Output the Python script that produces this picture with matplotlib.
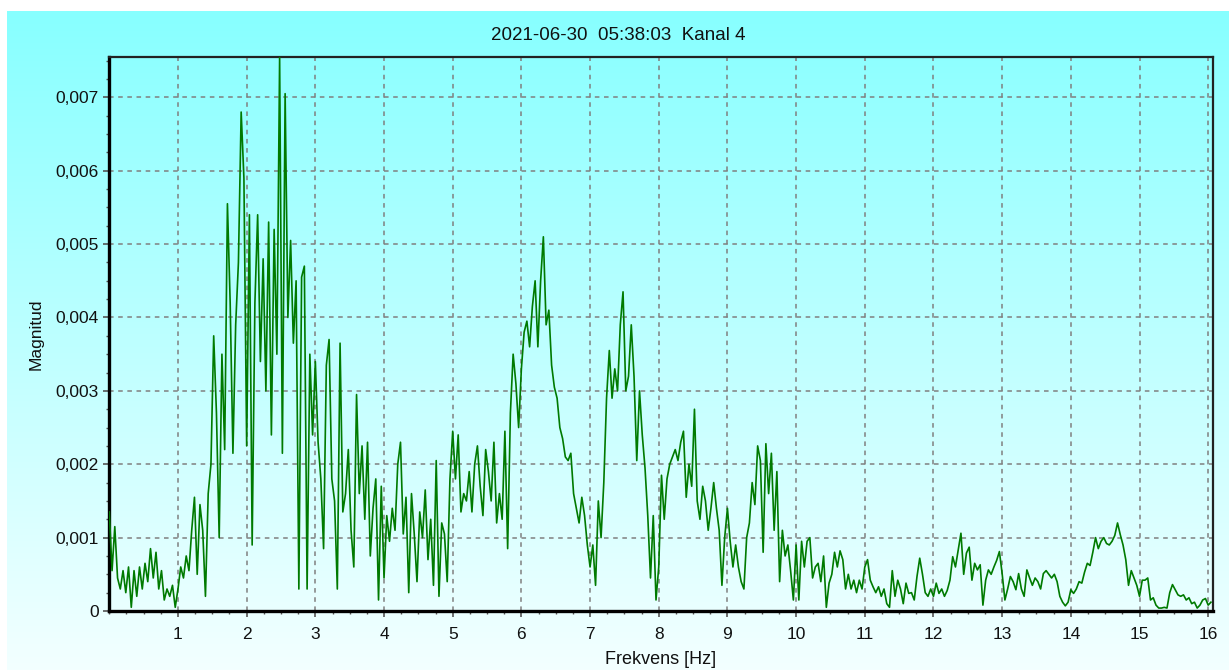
import numpy as np
import matplotlib
matplotlib.use("Agg")
import matplotlib.pyplot as plt
from matplotlib.ticker import MultipleLocator, FuncFormatter

# ---- data (magnitude in thousandths, sampled every 0.04 Hz from 0 Hz) ----
FREQ_STEP = 0.04
seg_00 = [1.35,0.55,1.15,0.45,0.3,0.55,0.25,0.6,0.05,0.55,0.2,0.6,0.3,0.65,0.4,0.85,0.45,0.8,0.3,0.55,0.15,0.3,0.2,0.35,0.05]
seg_01 = [0.3,0.6,0.45,0.75,0.55,1.1,1.55,0.5,1.45,1.1,0.2,1.6,2.0,3.75,2.7,1.0,3.5,2.2,5.55,4.2,2.15,3.9,4.75,6.8,5.9]
seg_02 = [2.25,5.4,0.9,4.2,5.4,3.4,4.8,3.0,5.3,2.4,5.2,3.5,7.55,2.15,7.05,4.0,5.05,3.65,4.5,0.3,4.55,4.7,0.3,3.5,2.4]
seg_03 = [3.4,2.3,1.8,0.85,3.35,3.7,1.8,1.5,0.3,3.65,1.35,1.6,2.2,1.1,0.6,2.95,1.6,2.25,1.25,2.3,0.75,1.4,1.8,0.15,1.7]
seg_04 = [0.45,1.3,0.95,1.4,1.1,2.0,2.3,1.05,1.55,0.25,1.6,1.05,0.4,1.35,1.0,1.65,0.7,1.25,0.35,2.05,0.2,1.2,1.05,0.4,1.8]
seg_05 = [2.45,1.8,2.4,1.35,1.6,1.5,1.9,1.35,2.0,2.25,1.7,1.3,2.2,1.9,1.5,2.3,1.2,1.6,1.25,2.45,0.85,2.7,3.5,3.1,2.5]
seg_06 = [3.3,3.8,3.95,3.6,4.15,4.5,3.6,4.5,5.1,3.9,4.1,3.35,3.05,2.9,2.5,2.35,2.1,2.05,2.15,1.6,1.4,1.2,1.55,1.3,0.9]
seg_07 = [0.6,0.9,0.35,1.5,1.0,1.75,2.9,3.55,2.9,3.3,3.0,3.9,4.35,3.0,3.2,3.9,3.2,2.05,3.0,2.4,1.95,1.3,0.45,1.3,0.15]
seg_08 = [0.6,1.85,1.25,1.8,2.0,2.1,2.2,2.05,2.3,2.45,1.55,2.0,1.7,2.75,1.5,1.25,1.7,1.5,1.1,1.4,1.75,1.4,1.1,0.35,1.0]
seg_09 = [1.4,0.95,0.6,0.9,0.6,0.4,0.3,1.0,1.2,1.75,1.45,2.25,2.05,0.8,2.28,1.6,2.15,1.1,1.9,0.4,1.1,0.75,0.9,0.55,0.15]
seg_10 = [0.9,0.15,0.95,0.6,0.95,1.0,0.45,0.6,0.65,0.4,0.75,0.05,0.38,0.5,0.8,0.6,0.82,0.7,0.3,0.5,0.3,0.42,0.25,0.42,0.3]
seg_11 = [0.6,0.7,0.42,0.33,0.25,0.33,0.2,0.3,0.1,0.05,0.55,0.2,0.42,0.3,0.1,0.38,0.24,0.25,0.15,0.47,0.72,0.5,0.25,0.2,0.3]
seg_12 = [0.2,0.38,0.24,0.3,0.2,0.28,0.42,0.74,0.6,0.83,1.06,0.5,0.79,0.87,0.42,0.65,0.56,0.63,0.08,0.42,0.56,0.5,0.6,0.69,0.81]
seg_13 = [0.51,0.15,0.3,0.47,0.4,0.29,0.51,0.3,0.2,0.56,0.45,0.35,0.45,0.4,0.3,0.51,0.55,0.5,0.45,0.5,0.4,0.2,0.12,0.07,0.12]
seg_14 = [0.29,0.24,0.3,0.4,0.38,0.53,0.65,0.62,0.8,1.0,0.85,0.95,1.0,0.92,0.9,0.95,1.03,1.2,1.04,0.9,0.7,0.35,0.55,0.45,0.35]
seg_15 = [0.2,0.42,0.42,0.45,0.15,0.18,0.08,0.04,0.04,0.05,0.04,0.25,0.36,0.29,0.22,0.2,0.22,0.15,0.18,0.1,0.12,0.04,0.08,0.15,0.17,0.08,0.12]

segments = [seg_00, seg_01, seg_02, seg_03, seg_04, seg_05, seg_06, seg_07,
            seg_08, seg_09, seg_10, seg_11, seg_12, seg_13, seg_14, seg_15]
magnitude = np.concatenate([np.array(s, dtype=float) for s in segments]) * 1e-3
frequency = np.arange(len(magnitude)) * FREQ_STEP

x_ticks = list(range(1, 17))
y_ticks = [0, 0.001, 0.002, 0.003, 0.004, 0.005, 0.006, 0.007]
title_text = "2021-06-30  05:38:03  Kanal 4"
x_label = "Frekvens [Hz]"
y_label = "Magnitud"

# ---- figure ----
W, H = 1229, 670
fig = plt.figure(figsize=(W / 100, H / 100), dpi=100)
fig.patch.set_facecolor("white")

# gradient background (cyan -> near white)
bg = fig.add_axes([7 / W, 0, 1 - 7 / W, 1 - 11 / H])
bg.set_axis_off()
n = 256
t = np.linspace(0, 1, n)[:, None]
top = np.array([135, 255, 255]) / 255.0
bot = np.array([243, 255, 255]) / 255.0
grad = top[None, None, :] * (1 - t[..., None]) + bot[None, None, :] * t[..., None]
grad = np.repeat(grad, 2, axis=1)
bg.imshow(grad, aspect="auto", extent=[0, 1, 0, 1], interpolation="bilinear")
bg.set_zorder(0)

ax = fig.add_axes([109.3 / W, 1 - 611 / H, (1213 - 109.3) / W, (611 - 57) / H])
ax.set_zorder(1)
ax.patch.set_alpha(0)

ax.plot(frequency, magnitude, color="#007a00", lw=1.2, zorder=3)

ax.set_xlim(0, 16.07)
ax.set_ylim(0, 0.00755)
ax.set_xticks(x_ticks)
ax.set_yticks(y_ticks)
ax.xaxis.set_minor_locator(MultipleLocator(0.25))
ax.yaxis.set_minor_locator(MultipleLocator(0.00025))

def yfmt(v, pos):
    if abs(v) < 1e-12:
        return "0"
    return f"{v:.3f}".replace(".", ",")

ax.yaxis.set_major_formatter(FuncFormatter(yfmt))

font = "Liberation Sans"
for lab in ax.get_xticklabels() + ax.get_yticklabels():
    lab.set_fontfamily(font)
ax.tick_params(axis="both", which="major", direction="out", length=4.5, width=1.2,
               color="#555555", labelsize=12.5, labelcolor="#111111")
ax.tick_params(axis="both", which="minor", direction="out", length=2.5, width=1.0, color="#555555")
ax.tick_params(axis="x", which="major", pad=7)
ax.tick_params(axis="y", which="major", pad=3)

ax.grid(True, which="major", color="#808080", linestyle=(0, (3, 3)), linewidth=1.1, zorder=1)
ax.set_axisbelow(True)

for side in ["left", "bottom"]:
    ax.spines[side].set_linewidth(2.4)
    ax.spines[side].set_color("#000000")
for side in ["top", "right"]:
    ax.spines[side].set_linewidth(1.6)
    ax.spines[side].set_color("#222222")

fig.text(0.503, 1 - 36 / H, title_text, ha="center", va="center", fontsize=13.5,
         family=font, color="#111111")
fig.text(0.5375, 1 - 660 / H, x_label, ha="center", va="center", fontsize=13,
         family=font, color="#111111")
fig.text(36 / W, 1 - 334 / H, y_label, ha="center", va="center", rotation=90,
         fontsize=12.5, family=font, color="#111111")

fig.savefig("out.png", dpi=100, facecolor=fig.get_facecolor())
